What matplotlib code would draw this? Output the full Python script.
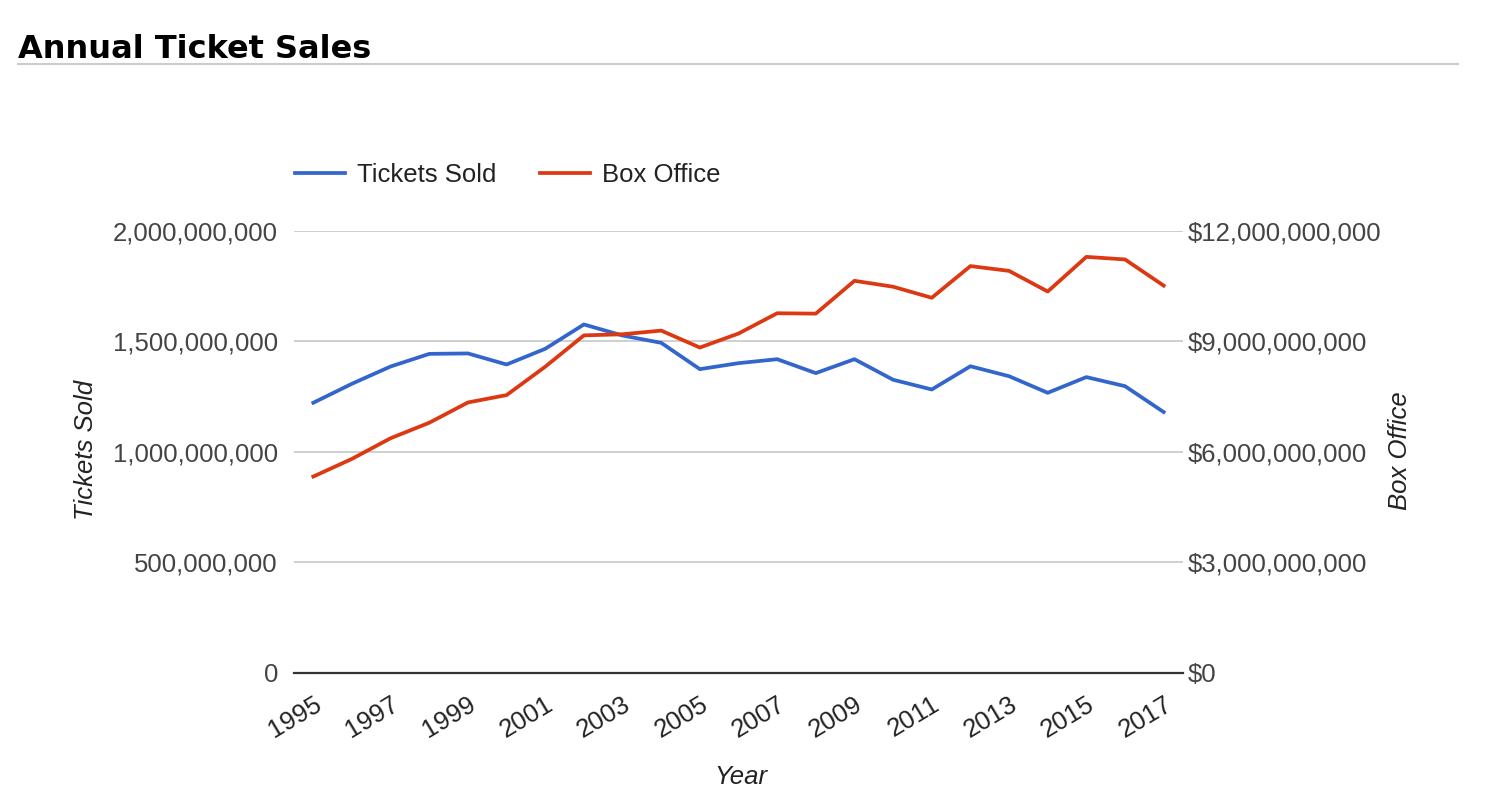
import matplotlib
matplotlib.use("Agg")
import matplotlib.pyplot as plt
from matplotlib.lines import Line2D
from matplotlib.ticker import FuncFormatter
import numpy as np

years = list(range(1995, 2018))
tickets_sold = [1222e6, 1308e6, 1386e6, 1443e6, 1445e6, 1395e6, 1466e6, 1576e6,
                1526e6, 1493e6, 1374e6, 1401e6, 1419e6, 1356e6, 1419e6, 1326e6,
                1282e6, 1387e6, 1342e6, 1267e6, 1338e6, 1297e6, 1180e6]
box_office = [5.33e9, 5.81e9, 6.37e9, 6.79e9, 7.34e9, 7.54e9, 8.31e9, 9.16e9,
              9.19e9, 9.29e9, 8.83e9, 9.21e9, 9.76e9, 9.75e9, 10.64e9, 10.48e9,
              10.18e9, 11.04e9, 10.91e9, 10.35e9, 11.29e9, 11.22e9, 10.51e9]
left_ticks = [0, 500e6, 1000e6, 1500e6, 2000e6]
right_ticks = [0, 3e9, 6e9, 9e9, 12e9]

BLUE = "#3366cc"
RED = "#dc3912"
W, H = 1510, 800

plt.rcParams['font.family'] = ['Liberation Sans', 'DejaVu Sans']

fig = plt.figure(figsize=(W / 100, H / 100), dpi=100)
ax = fig.add_axes([294 / W, 1 - 673 / H, (1183 - 294) / W, (673 - 230.7) / H])
ax2 = ax.twinx()

x = np.arange(len(years))
l1, = ax.plot(x, tickets_sold, color=BLUE, lw=2.7, label="Tickets Sold", solid_joinstyle='round')
l2, = ax2.plot(x, box_office, color=RED, lw=2.7, label="Box Office", solid_joinstyle='round')

ax.set_xlim(-0.5, len(years) - 0.5)
ax.set_ylim(0, 2000e6)
ax2.set_ylim(0, 12e9)
ax.set_yticks(left_ticks)
ax2.set_yticks(right_ticks)
ax.yaxis.set_major_formatter(FuncFormatter(lambda v, p: f"{int(v):,}"))
ax2.yaxis.set_major_formatter(FuncFormatter(lambda v, p: f"${int(v):,}"))

ax.grid(axis='y', color='#cccccc', lw=1.3)
ax.set_axisbelow(True)
for s in ax.spines.values():
    s.set_visible(False)
for s in ax2.spines.values():
    s.set_visible(False)
ax.spines['bottom'].set_visible(True)
ax.spines['bottom'].set_color('#333333')
ax.spines['bottom'].set_linewidth(1.6)

ax.set_xticks(x[::2])
ax.set_xticklabels([str(y) for y in years[::2]])
ax.tick_params(axis='x', length=0, pad=14, labelsize=18.5, labelcolor='#222222')
for lbl in ax.get_xticklabels():
    lbl.set_rotation(31)
    lbl.set_ha('right')
    lbl.set_va('top')
    lbl.set_rotation_mode('anchor')
ax.tick_params(axis='y', length=0, pad=11.5, labelsize=18.5, labelcolor='#444444')
ax2.tick_params(axis='y', length=0, pad=3.6, labelsize=18.5, labelcolor='#444444')

ax.set_ylabel("Tickets Sold", fontsize=18.5, style='italic', color='#222222')
ax.yaxis.set_label_coords(86 / W, 1 - 450 / H, transform=fig.transFigure)
ax2.set_ylabel("Box Office", fontsize=18.5, style='italic', color='#222222')
ax2.yaxis.set_label_coords(1400 / W, 1 - 451 / H, transform=fig.transFigure)
ax.set_xlabel("Year", fontsize=18.5, style='italic', color='#222222')
ax.xaxis.set_label_coords(741 / W, 1 - 777 / H, transform=fig.transFigure)
ax.yaxis.label.set_va('center')
ax2.yaxis.label.set_va('center')
ax.xaxis.label.set_va('center')

fig.legend(handles=[l1, l2], loc='center left', bbox_to_anchor=(295 / W, 1 - 175 / H),
           bbox_transform=fig.transFigure, ncol=2, frameon=False, fontsize=18.5,
           handlelength=1.95, handletextpad=0.47, columnspacing=1.7,
           borderpad=0, borderaxespad=0, labelcolor='#222222')

fig.text(18 / W, 1 - 58 / H, "Annual Ticket Sales", fontsize=23, fontweight='bold',
         family='DejaVu Sans', color='black', ha='left', va='baseline')
fig.add_artist(Line2D([18 / W, 1458 / W], [1 - 64 / H, 1 - 64 / H],
                      transform=fig.transFigure, color='#cccccc', lw=1.5))

fig.savefig("out.png", dpi=100)
